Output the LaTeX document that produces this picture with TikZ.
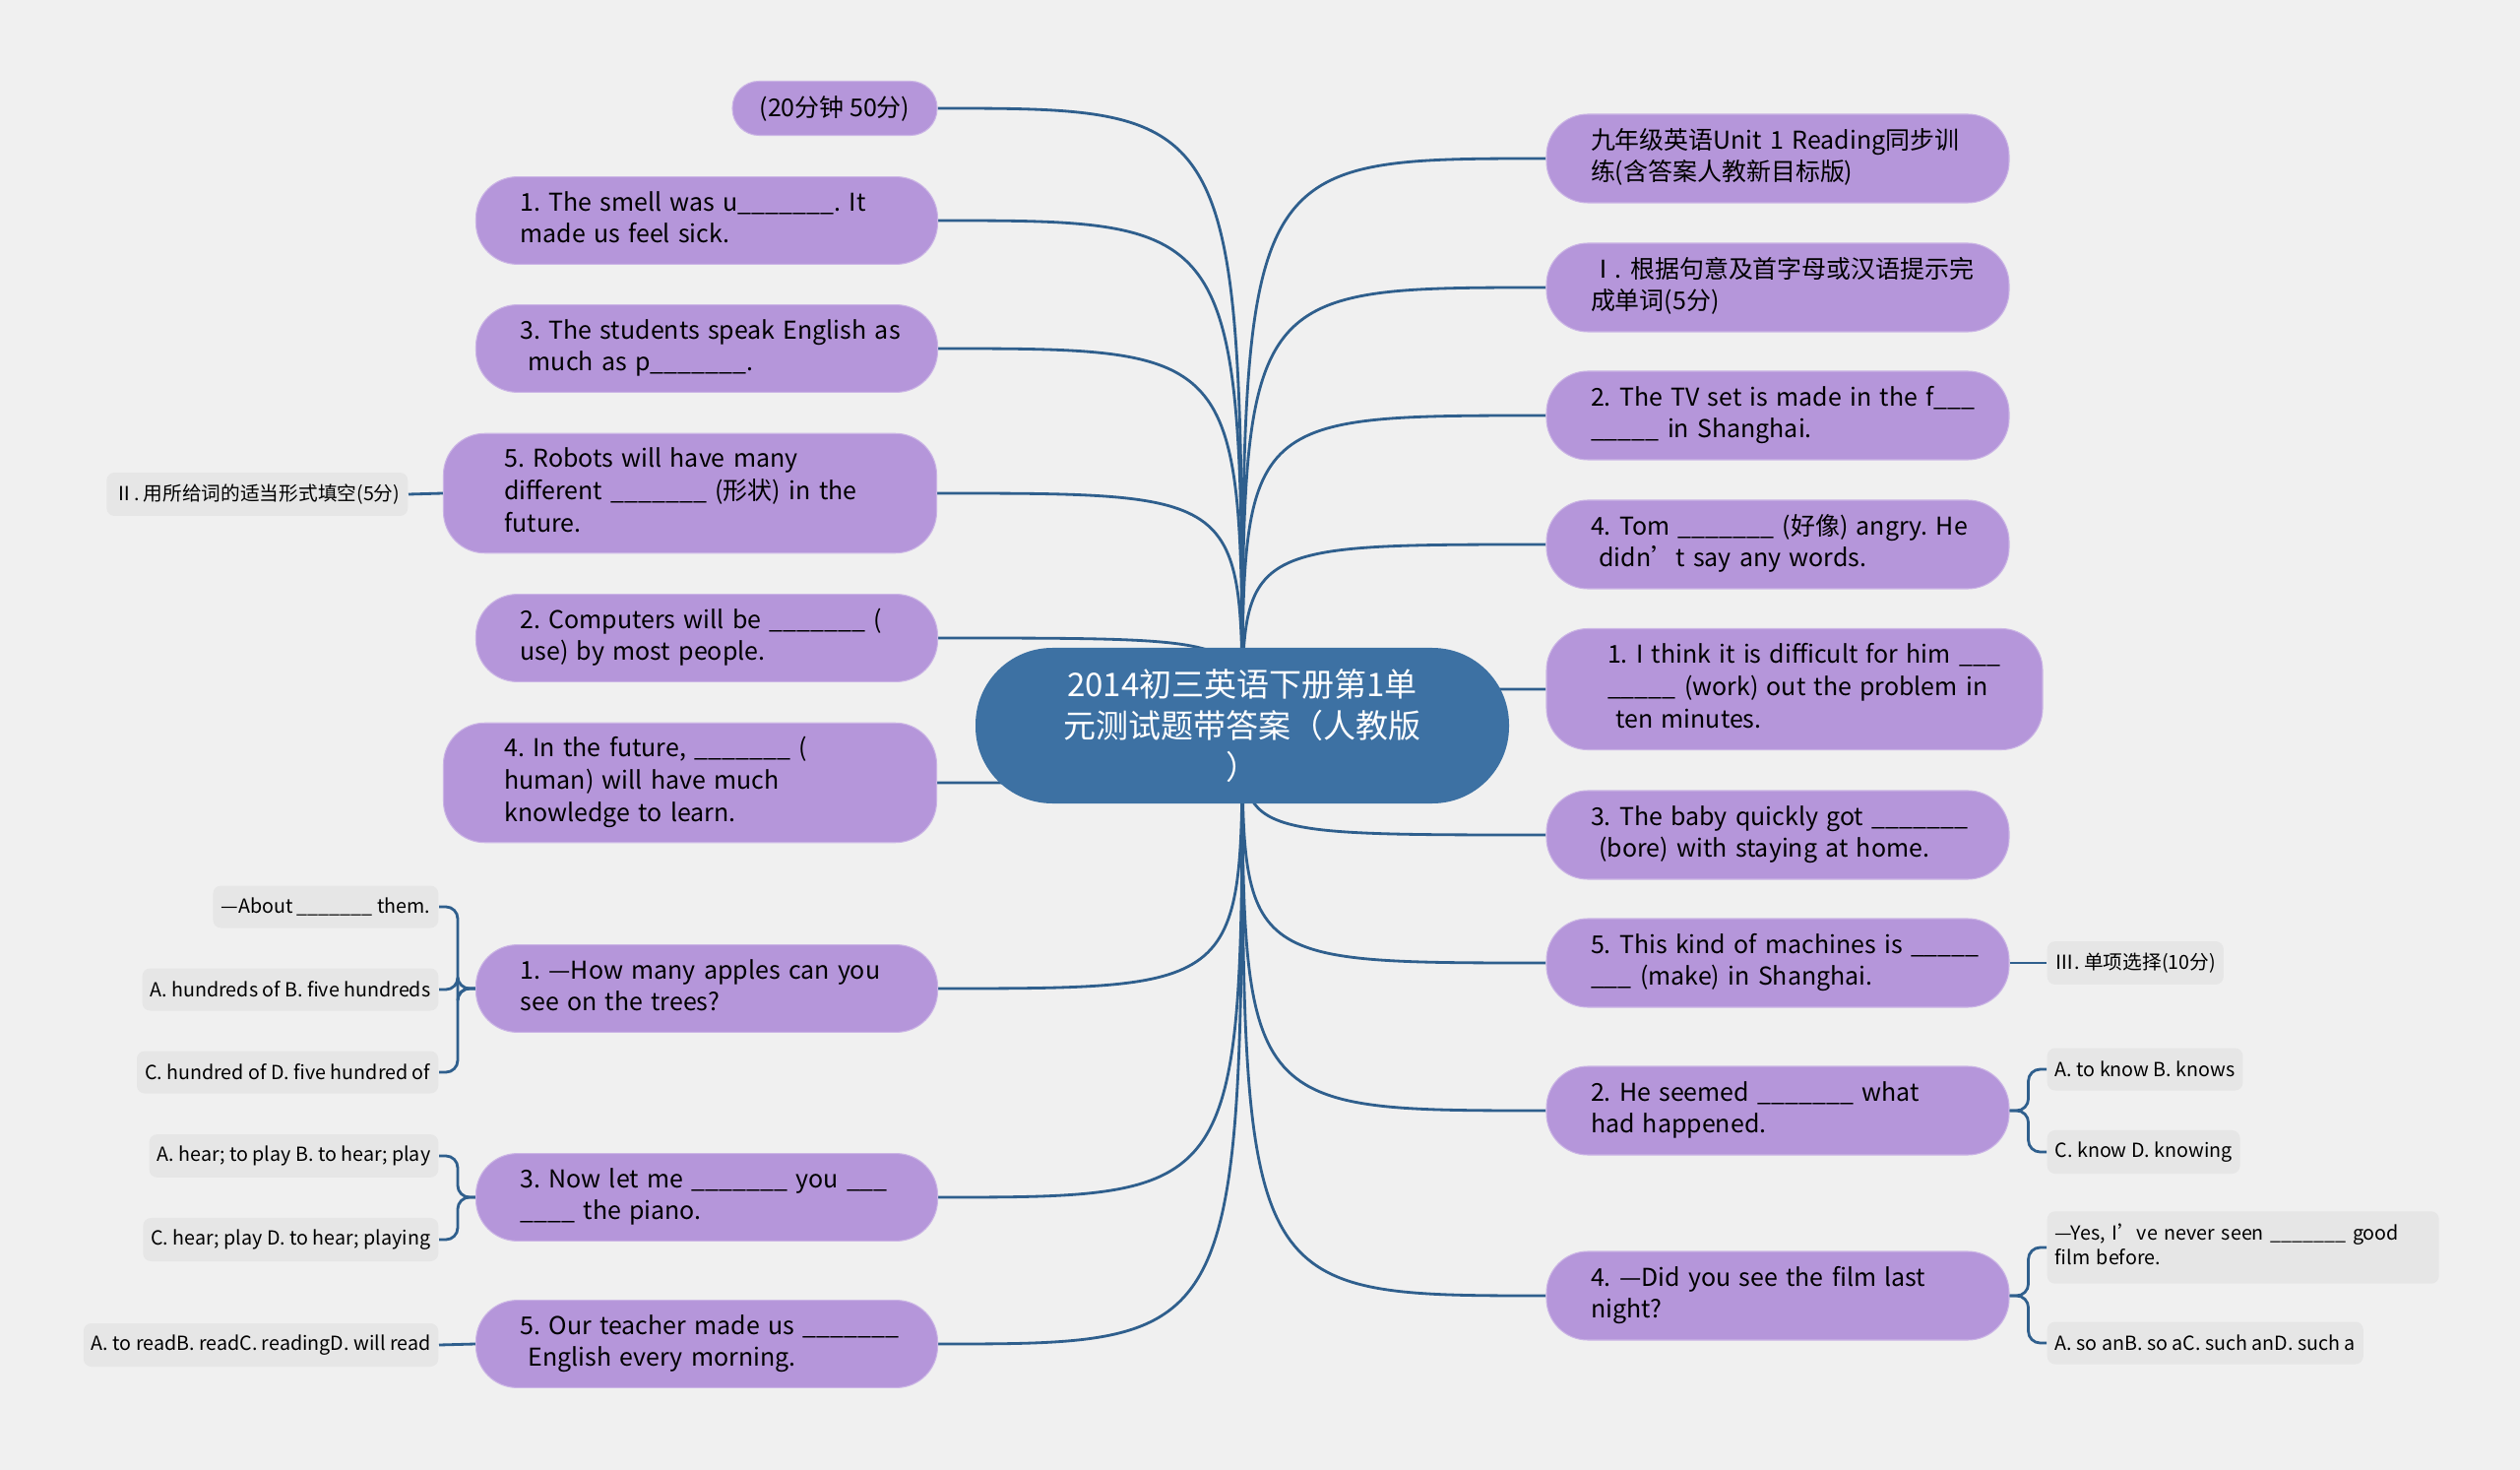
\documentclass[tikz,border=0pt]{standalone}
\usepackage{fontspec}
\setmainfont{Noto Sans CJK SC}
\usepackage{xcolor}
\usetikzlibrary{positioning}
\definecolor{bgcol}{HTML}{F0F0F0}
\definecolor{rootcol}{HTML}{3D71A3}
\definecolor{topiccol}{HTML}{B596DA}
\definecolor{optcol}{HTML}{E6E6E6}
\definecolor{linecol}{HTML}{2F5F8D}
\pgfdeclarelayer{bg}
\pgfsetlayers{bg,main}
\frenchspacing
\newcommand{\blank}{\_\_\_\_\_\_\_}
\newcommand{\lines}[1]{\begin{tabular}{@{}l@{}}#1\end{tabular}}
\begin{document}
\begin{tikzpicture}[
    root/.style={
        rectangle, fill=rootcol, text=white,
        minimum width=5.42cm, minimum height=1.58cm,
        rounded corners=0.78cm, align=center,
        font=\fontsize{9.4}{11.9}\selectfont
    },
    topic/.style={
        rectangle, fill=topiccol, draw=topiccol!70!white, line width=0.3pt,
        minimum width=4.69cm, minimum height=0.88cm, text width=3.79cm,
        rounded corners=0.42cm, align=left,
        font=\fontsize{7.1}{9.3}\selectfont
    },
    wide/.style={minimum width=5.01cm, minimum height=1.21cm, text width=3.77cm},
    rtopic/.style={topic, minimum width=4.70cm, minimum height=0.90cm, text width=3.80cm},
    opt/.style={
        rectangle, fill=optcol, inner xsep=0.08cm,
        minimum height=0.43cm, rounded corners=0.08cm,
        align=left, font=\fontsize{5.6}{7.1}\selectfont
    },
    conn/.style={draw=linecol, line width=0.8pt},
]

% ── Background ──
\begin{pgfonlayer}{bg}
\fill[bgcol] (0,0) rectangle (25.6,-14.93);
\end{pgfonlayer}
\useasboundingbox (0,0) rectangle (25.6,-14.93);

% ── Root ──
\node[root] (root) at (12.62,-7.37)
    {2014初三英语下册第1单\\元测试题带答案（人教版\\）};

% ── Left topics ──
\node[topic, text width=, align=center, minimum width=2.08cm,
      minimum height=0.55cm, rounded corners=0.27cm] (L0) at (8.48,-1.10)
    {(20分钟 50分)};
\node[topic] (L1) at (7.18,-2.24)
    {\lines{1. The smell was u\blank. It\\made us feel sick.}};
\node[topic] (L2) at (7.18,-3.54)
    {\lines{3. The students speak English as\\\ much as p\blank.}};
\node[topic, wide] (L3) at (7.01,-5.01)
    {\lines{5. Robots will have many\\different \blank\ (形状) in the\\future.}};
\node[topic] (L4) at (7.18,-6.48)
    {\lines{2. Computers will be \blank\ (\\use) by most people.}};
\node[topic, wide] (L5) at (7.01,-7.95)
    {\lines{4. In the future, \blank\ (\\human) will have much\\knowledge to learn.}};
\node[topic] (L6) at (7.18,-10.04)
    {\lines{1. —How many apples can you\\see on the trees?}};
\node[topic] (L7) at (7.18,-12.16)
    {\lines{3. Now let me \blank\ you \_\_\_\\\_\_\_\_\ the piano.}};
\node[topic] (L8) at (7.18,-13.65)
    {\lines{5. Our teacher made us \blank\\\ English every morning.}};

% ── Right topics ──
\node[rtopic] (R0) at (18.06,-1.61)
    {\lines{九年级英语Unit 1 Reading同步训\\练(含答案人教新目标版)}};
\node[rtopic] (R1) at (18.06,-2.92)
    {\lines{Ⅰ. 根据句意及首字母或汉语提示完\\成单词(5分)}};
\node[rtopic] (R2) at (18.06,-4.22)
    {\lines{2. The TV set is made in the f\_\_\_\\\_\_\_\_\_\ in Shanghai.}};
\node[rtopic] (R3) at (18.06,-5.53)
    {\lines{4. Tom \blank\ (好像) angry. He\\\ didn’t say any words.}};
\node[rtopic, minimum width=5.04cm, minimum height=1.23cm, text width=3.80cm] (R4) at (18.23,-7.00)
    {\lines{1. I think it is difficult for him \_\_\_\\\_\_\_\_\_\ (work) out the problem in\\\ ten minutes.}};
\node[rtopic] (R5) at (18.06,-8.48)
    {\lines{3. The baby quickly got \blank\\\ (bore) with staying at home.}};
\node[rtopic] (R6) at (18.06,-9.78)
    {\lines{5. This kind of machines is \_\_\_\_\_\\\_\_\_\ (make) in Shanghai.}};
\node[rtopic] (R7) at (18.06,-11.28)
    {\lines{2. He seemed \blank\ what\\had happened.}};
\node[rtopic] (R8) at (18.06,-13.16)
    {\lines{4. —Did you see the film last\\night?}};

% ── Options, left ──
\node[opt, anchor=east] (g2)  at (4.15,-5.02) {Ⅱ. 用所给词的适当形式填空(5分)};
\node[opt, anchor=east] (g6a) at (4.46,-9.21) {—About \blank\ them.};
\node[opt, anchor=east] (g6b) at (4.46,-10.05) {A. hundreds of B. five hundreds};
\node[opt, anchor=east] (g6c) at (4.46,-10.89) {C. hundred of D. five hundred of};
\node[opt, anchor=east] (g7a) at (4.46,-11.74) {A. hear; to play B. to hear; play};
\node[opt, anchor=east] (g7b) at (4.46,-12.59) {C. hear; play D. to hear; playing};
\node[opt, anchor=east] (g8)  at (4.46,-13.66) {A. to readB. readC. readingD. will read};

% ── Options, right ──
\node[opt, anchor=west] (g3)  at (20.79,-9.78) {Ⅲ. 单项选择(10分)};
\node[opt, anchor=west] (g7c) at (20.79,-10.86) {A. to know B. knows};
\node[opt, anchor=west] (g7d) at (20.79,-11.70) {C. know D. knowing};
\node[opt, anchor=west, text width=3.82cm, minimum height=0.68cm] (g8a) at (20.79,-12.67)
    {\lines{—Yes, I’ve never seen \blank\ good\\film before.}};
\node[opt, anchor=west] (g8b) at (20.79,-13.64) {A. so anB. so aC. such anD. such a};

% ── Connectors from root ──
\begin{pgfonlayer}{bg}
\foreach \n in {L0,L1,L2,L3,L4,L5,L6,L7,L8}
    \draw[conn] (root.center) .. controls (root.center |- \n.east) .. (\n.east);
\foreach \n in {R0,R1,R2,R3,R4,R5,R6,R7,R8}
    \draw[conn] (root.center) .. controls (root.center |- \n.west) .. (\n.west);
\end{pgfonlayer}

% ── Connectors to options ──
\draw[conn] (L3.west) -- (g2.east);
\draw[conn] (L8.west) -- (g8.east);
\draw[conn] (R6.east) -- (g3.west);
\foreach \c in {g6a,g6b,g6c}
    \draw[conn, rounded corners=0.12cm] (L6.west) -- ++(-0.18,0) |- (\c.east);
\foreach \c in {g7a,g7b}
    \draw[conn, rounded corners=0.12cm] (L7.west) -- ++(-0.18,0) |- (\c.east);
\foreach \c in {g7c,g7d}
    \draw[conn, rounded corners=0.12cm] (R7.east) -- ++(0.19,0) |- (\c.west);
\foreach \c in {g8a,g8b}
    \draw[conn, rounded corners=0.12cm] (R8.east) -- ++(0.19,0) |- (\c.west);

\end{tikzpicture}
\end{document}
